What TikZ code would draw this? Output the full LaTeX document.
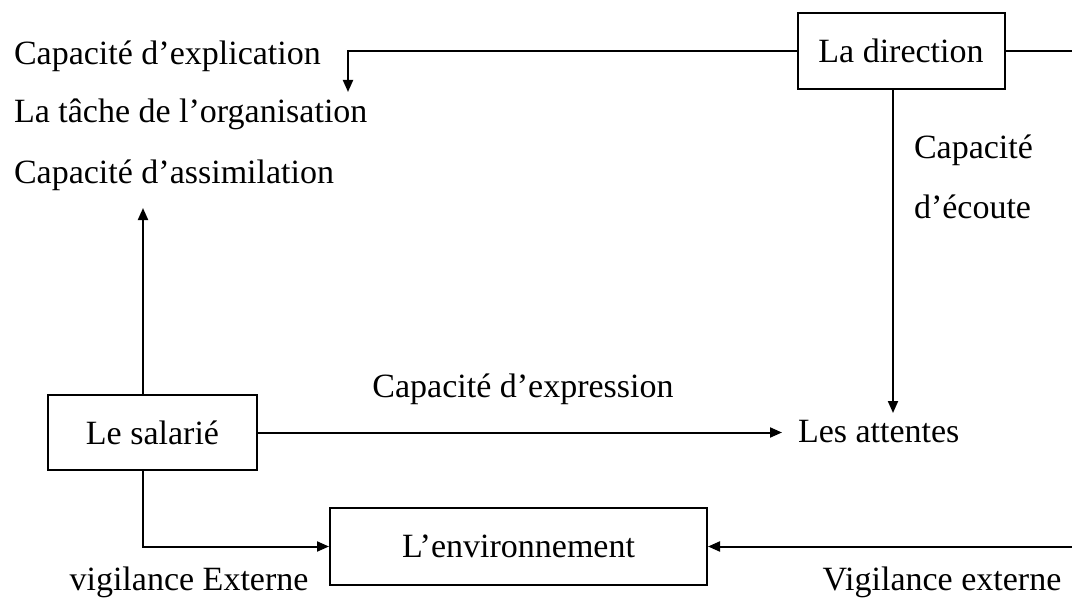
\documentclass[tikz,border=0pt]{standalone}
\usepackage{fontspec}
\setmainfont{Liberation Serif}
\usetikzlibrary{arrows.meta}
\begin{document}
\begin{tikzpicture}[x=1pt,y=-1pt,
  line width=2pt,
  >={Triangle[length=12pt,width=10pt]},
  font=\fontsize{34}{40}\selectfont,
  box/.style={draw, rectangle, inner sep=0pt},
  lbl/.style={inner sep=0pt}]
\useasboundingbox (0,0) rectangle (1072,602);

% boxes
\node[box, minimum width=207pt, minimum height=76pt] (dir) at (901,51) {La direction};
\node[box, minimum width=209pt, minimum height=75pt] (sal) at (152.5,432.5) {Le salarié};
\node[box, minimum width=377pt, minimum height=77pt] (env) at (518.5,546.5) {L’environnement};

% free texts
\node[lbl, anchor=base west] (expl)  at (13,65)  {Capacité d’explication};
\node[lbl, anchor=base west] (tache) at (13,123) {La tâche de l’organisation};
\node[lbl, anchor=base west] (assim) at (13,183) {Capacité d’assimilation};
\node[lbl, anchor=base west] (ecA)   at (913,158) {Capacité};
\node[lbl, anchor=base west] (ecB)   at (913,218) {d’écoute};
\node[lbl, anchor=base]      (expr)  at (523,397) {Capacité d’expression};
\node[lbl, anchor=base west] (att)   at (797,442) {Les attentes};
\node[lbl, anchor=base]      (vigL)  at (189,590) {vigilance Externe};
\node[lbl, anchor=base]      (vigR)  at (942,590) {Vigilance externe};

% connector end points
\coordinate (dirR)  at (1072,51);
\coordinate (tacheT) at (348,92);
\coordinate (attT)  at (893,413);
\coordinate (assimB) at (143,208);
\coordinate (attL)  at (782,432.5);
\coordinate (envR)  at (1072,546.5);

% connectors
\draw (dir.east) -- (dirR);
\draw[->] (dir.west) -| (tacheT);
\draw[->] (dir.south -| attT) -- (attT);
\draw[->] (sal.north -| assimB) -- (assimB);
\draw[->] (sal.east) -- (attL);
\draw[->] (sal.south -| assimB) |- (env.west);
\draw[->] (envR) -- (env.east);
\end{tikzpicture}
\end{document}
